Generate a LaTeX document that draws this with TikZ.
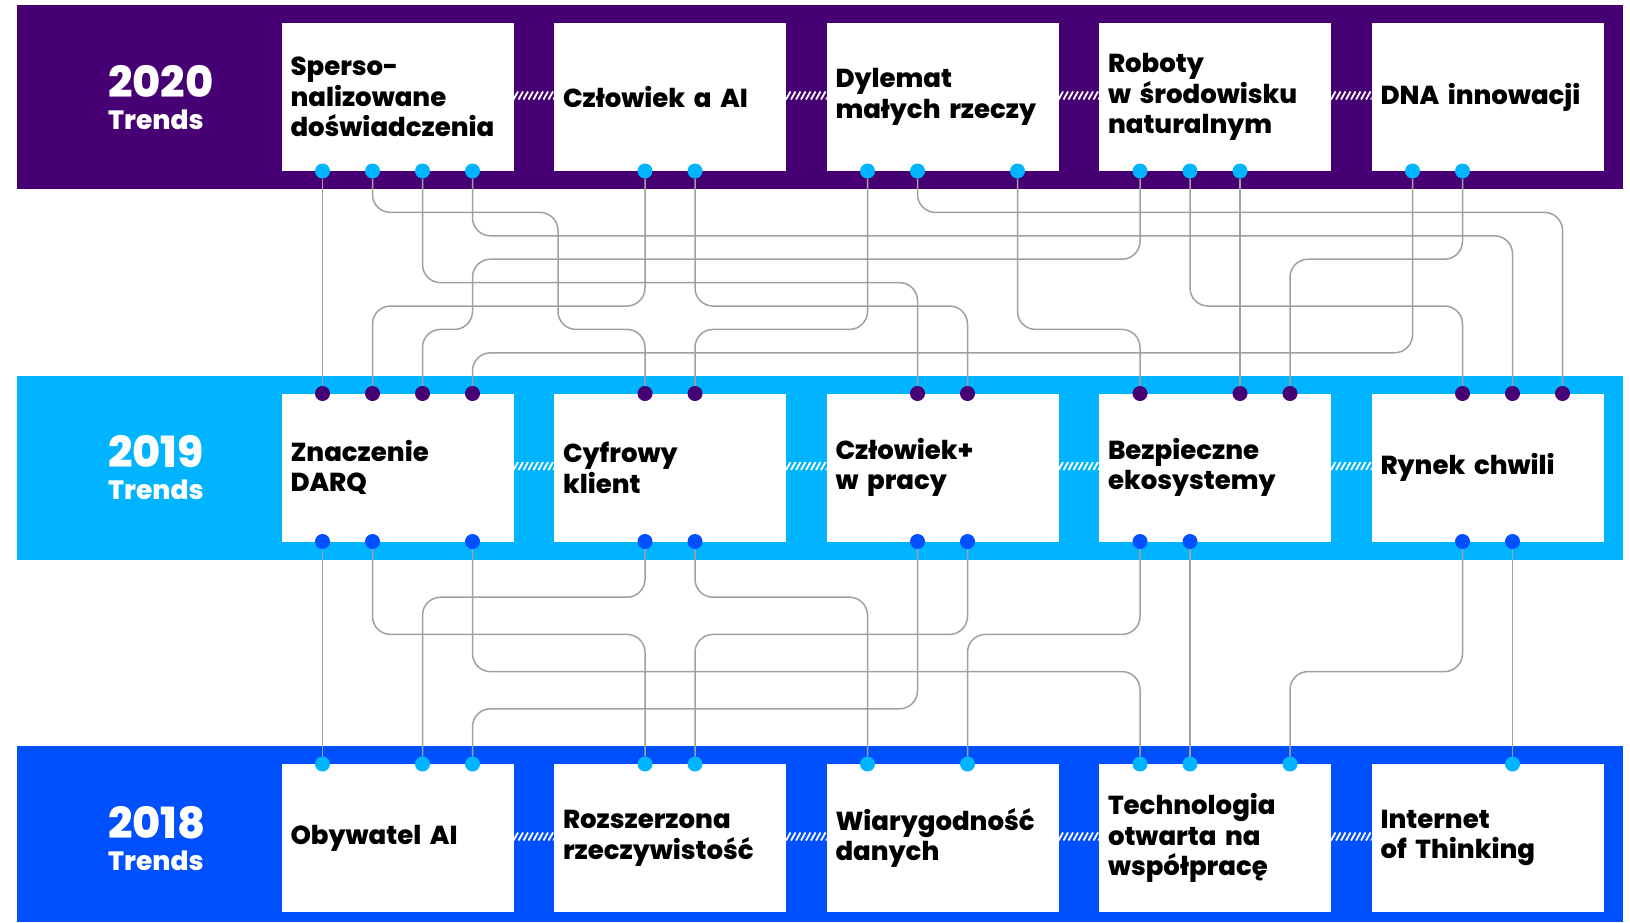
\documentclass[tikz,border=0pt]{standalone}
\usepackage{fontspec}
\setmainfont{Poppins}[BoldFont={Poppins ExtraBold}]
\usetikzlibrary{positioning, calc, backgrounds}
\definecolor{trendpurple}{HTML}{460073}
\definecolor{trendcyan}{HTML}{00B4FF}
\definecolor{trendblue}{HTML}{0050FF}
\definecolor{wiregray}{HTML}{A0A0A0}
\pgfdeclarelayer{wires}
\pgfsetlayers{background,wires,main}
\tikzset{
  band/.style={rectangle, fill=#1, minimum width=1606pt, minimum height=184pt,
               inner sep=0pt, outer sep=0pt},
  card/.style={rectangle, fill=white, minimum width=232pt, minimum height=148pt,
               text width=214pt, inner sep=9pt, outer sep=0pt, align=left,
               font=\fontsize{26}{30.7}\selectfont\bfseries},
  hatch/.style={rectangle, fill=#1, minimum width=40.5pt, minimum height=8pt,
                inner sep=0pt, outer sep=0pt,
                path picture={\foreach \k in {-3,...,10}
                  \draw[white, line width=1.8pt] ([xshift=\k*5pt]path picture bounding box.south west) -- ++(4.5pt,8pt);}},
  dot/.style={circle, fill=#1, minimum size=15pt, inner sep=0pt, outer sep=0pt},
  year/.style={anchor=base west, text=white, inner sep=0pt,
               font=\fontsize{43}{43}\selectfont\bfseries},
  trend/.style={anchor=base west, text=white, inner sep=0pt,
                font=\fontsize{26.5}{26.5}\selectfont\bfseries},
  wire/.style={draw=wiregray, line width=1.5pt, rounded corners=18pt},
}

\begin{document}
\begin{tikzpicture}[x=1pt, y=-1pt, node distance=40.5pt]
  \useasboundingbox (0,0) rectangle (1630,922);

  \begin{scope}[on background layer]
    \node[band=trendpurple] (r20) at (820,97) {};
    \node[band=trendcyan] (r19) at (820,467.5) {};
    \node[band=trendblue, minimum height=176pt] (r18) at (820,834) {};
  \end{scope}

  \node[year] (y20) at (108,97) {2020};
  \node[trend] (n20) at (108,129) {Trends};
  \node[year] (y19) at (108,467.5) {2019};
  \node[trend] (n19) at (108,499.5) {Trends};
  \node[year] (y18) at (108,838) {2018};
  \node[trend] (n18) at (108,870) {Trends};

  % 2020
  \node[card] (t20-1) at (397.5,97) {Sperso-\\nalizowane\\doświadczenia};
  \node[card, right=of t20-1] (t20-2) {Człowiek~a~AI};
  \node[card, right=of t20-2] (t20-3) {Dylemat\\małych~rzeczy};
  \node[card, right=of t20-3] (t20-4) {Roboty\\w~środowisku\\naturalnym};
  \node[card, right=of t20-4] (t20-5) {DNA~innowacji};
  % 2019
  \node[card, below=222.5pt of t20-1] (t19-1) {Znaczenie\\DARQ};
  \node[card, right=of t19-1] (t19-2) {Cyfrowy\\klient};
  \node[card, right=of t19-2] (t19-3) {Człowiek+\\w~pracy};
  \node[card, right=of t19-3] (t19-4) {Bezpieczne\\ekosystemy};
  \node[card, right=of t19-4] (t19-5) {Rynek~chwili};
  % 2018
  \node[card, below=222.5pt of t19-1] (t18-1) {Obywatel~AI};
  \node[card, right=of t18-1] (t18-2) {Rozszerzona\\rzeczywistość};
  \node[card, right=of t18-2] (t18-3) {Wiarygodność\\danych};
  \node[card, right=of t18-3] (t18-4) {Technologia\\otwarta~na\\współpracę};
  \node[card, right=of t18-4] (t18-5) {Internet\\of~Thinking};

  \foreach \r/\c in {20/trendpurple, 19/trendcyan, 18/trendblue}
    \foreach \i in {1,...,4}
      \node[hatch=\c] (h\r-\i) at ($(t\r-\i.east)+(20.25,-1.5)$) {};

  \foreach \b/\s in {1/0,1/1,1/2,1/3,2/1,2/2,3/0,3/1,3/3,4/0,4/1,4/2,5/0,5/1}
    \node[dot=trendcyan] (a\b\s) at ($(t20-\b.south west)+(41+50*\s,0)$) {};
  \foreach \b/\s in {1/0,1/1,1/2,1/3,2/1,2/2,3/1,3/2,4/0,4/2,4/3,5/1,5/2,5/3}
    \node[dot=trendpurple] (b\b\s) at ($(t19-\b.north west)+(41+50*\s,0)$) {};
  \foreach \b/\s in {1/0,1/1,1/3,2/1,2/2,3/1,3/2,4/0,4/1,5/1,5/2}
    \node[dot=trendblue] (c\b\s) at ($(t19-\b.south west)+(41+50*\s,0)$) {};
  \foreach \b/\s in {1/0,1/2,1/3,2/1,2/2,3/0,3/2,4/0,4/1,4/3,5/2}
    \node[dot=trendcyan] (d\b\s) at ($(t18-\b.north west)+(41+50*\s,0)$) {};

  \foreach \i in {1,...,7}
    \coordinate (L\i) at (0,{189+23.4*\i});
  \foreach \i in {1,...,4}
    \coordinate (M\i) at (0,{560+37.2*\i});
  \coordinate (J1) at (558,0);

  \begin{pgfonlayer}{wires}
    \foreach \f/\t in {a10/b10, a42/b42, c10/d10, c41/d41, c52/d52}
      \draw[wire] (\f) -- (\t);
    \foreach \f/\l/\t in {a12/L4/b31, a13/L2/b52, a21/L5/b11, a22/L5/b32,
                          a30/L6/b22, a31/L1/b53, a33/L6/b40, a41/L5/b51,
                          a50/L7/b13, a51/L3/b43,
                          c11/M2/d21, c13/M3/d40, c21/M1/d12, c22/M1/d30,
                          c31/M4/d13, c32/M2/d22, c40/M2/d32, c51/M3/d43}
      \draw[wire] (\f) |- (\t |- \l) -- (\t);
    \draw[wire] (a11) |- (J1 |- L1) -- (J1 |- L6) -| (b21);
    \draw[wire] (a40) |- (a13 |- L3) -- (a13 |- L6) -| (b12);
  \end{pgfonlayer}
\end{tikzpicture}
\end{document}
